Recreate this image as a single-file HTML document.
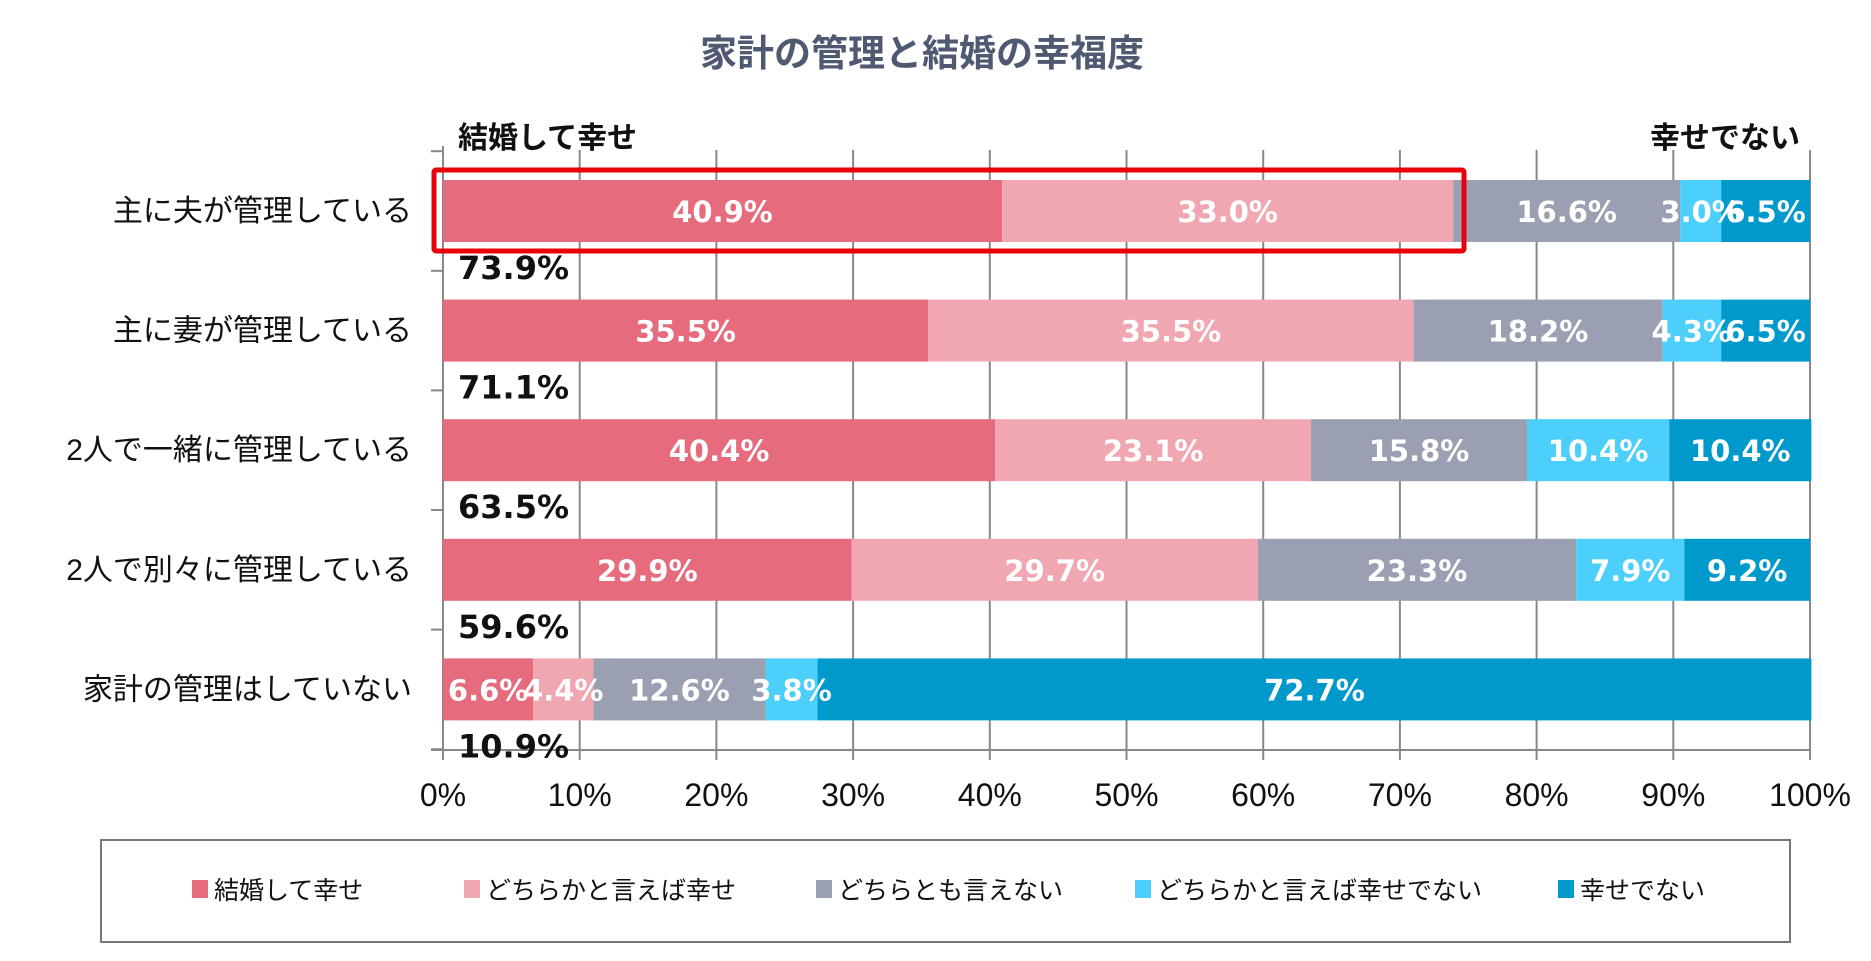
<!DOCTYPE html>
<html><head><meta charset="utf-8"><style>
body{margin:0;background:#fff;}
svg text{font-family:"Liberation Sans","Noto Sans CJK JP",sans-serif;}
</style></head><body>
<svg id="chart" width="1871" height="956" xmlns="http://www.w3.org/2000/svg">
<text x="922" y="66" text-anchor="middle" font-size="37" font-weight="bold" fill="#4f5a72">家計の管理と結婚の幸福度</text>
<text x="458" y="148" font-size="30" font-weight="bold" fill="#111">結婚して幸せ</text>
<text x="1800" y="148" text-anchor="end" font-size="30" font-weight="bold" fill="#111">幸せでない</text>
<g id="grid"></g><g id="bars"></g><g id="labels"></g>
<rect x="434" y="170" width="1030" height="81" fill="none" stroke="#e8000b" stroke-width="5" rx="2"/>
<rect x="101" y="840" width="1689" height="102" fill="#fff" stroke="#777" stroke-width="2"/>
<g id="legend"></g>
</svg>
<script>
const categories=["主に夫が管理している","主に妻が管理している","2人で一緒に管理している","2人で別々に管理している","家計の管理はしていない"];
const seriesNames=["結婚して幸せ","どちらかと言えば幸せ","どちらとも言えない","どちらかと言えば幸せでない","幸せでない"];
const s1=[40.9,35.5,40.4,29.9,6.6];
const s2=[33.0,35.5,23.1,29.7,4.4];
const s3=[16.6,18.2,15.8,23.3,12.6];
const s4=[3.0,4.3,10.4,7.9,3.8];
const s5=[6.5,6.5,10.4,9.2,72.7];
const happyTotals=["73.9%","71.1%","63.5%","59.6%","10.9%"];
const ticks=[0,10,20,30,40,50,60,70,80,90,100];
const colors=["#e56b7d","#f0a7b1","#9aa0b1","#4ccffa","#0099cc"];
const X0=443,X1=1810,Y0=150,Y1=750,ROW0=211,ROWH=119.6,BH=62;
const x=v=>X0+(X1-X0)*v/100;
const y=i=>ROW0+i*ROWH;
const NS="http://www.w3.org/2000/svg";
function mk(tag,attrs,parent,txt){const e=document.createElementNS(NS,tag);for(const k in attrs)e.setAttribute(k,attrs[k]);if(txt!==undefined)e.textContent=txt;parent.appendChild(e);return e;}
const grid=document.getElementById('grid'),bars=document.getElementById('bars'),labels=document.getElementById('labels'),legend=document.getElementById('legend');
ticks.forEach(t=>{
 const l=mk('line',{x1:x(t),x2:x(t),y1:t===0?Y0-4:Y0,y2:Y1+10,stroke:'#888','stroke-width':2},grid);
 
 
 const tx=mk('text',{x:x(t),y:806,'text-anchor':'middle','font-size':32,fill:'#111'},labels,t+'%');
 
 
});
const ax=mk('line',{x1:X0-12,x2:X1,y1:Y1,y2:Y1,stroke:'#888','stroke-width':2},grid);


for(let i=0;i<=categories.length;i++){
 const yy=ROW0-ROWH/2+i*ROWH;
 const tk=mk('line',{x1:X0-12,x2:X0,y1:yy,y2:yy,stroke:'#888','stroke-width':2},grid);
 
 
}
const series=[s1,s2,s3,s4,s5];
categories.forEach((c,i)=>{
 const cl=mk('text',{x:412,y:y(i)+10,'text-anchor':'end','font-size':30,fill:'#111'},labels,c);
 
 
 let cum=0;
 series.forEach((s,k)=>{
  const v=s[i];
  const r=mk('rect',{x:x(cum),y:y(i)-BH/2,width:x(cum+v)-x(cum),height:BH,fill:colors[k]},bars);
  
  
  const t=mk('text',{x:(x(cum)+x(cum+v))/2,y:y(i)+11,'text-anchor':'middle','font-size':29,'font-weight':'bold',fill:'#fff'},labels,v.toFixed(1)+'%');
  
  
  t.style.fontFamily='"DejaVu Sans",sans-serif';
  cum+=v;
 });
 const ht=mk('text',{x:458,y:y(i)+BH/2+37,'font-size':32,'font-weight':'bold',fill:'#111'},labels,happyTotals[i]);
 
 
 ht.style.fontFamily='"DejaVu Sans",sans-serif';
});
const lx=[192,464,816,1135,1558];
seriesNames.forEach((n,k)=>{
 const sw=mk('rect',{x:lx[k],y:880,width:16,height:18,fill:colors[k]},legend);
 
 
 const t=mk('text',{x:lx[k]+22,y:899,'font-size':25,fill:'#111'},legend,n);
 
 
});
</script>
</body></html>
